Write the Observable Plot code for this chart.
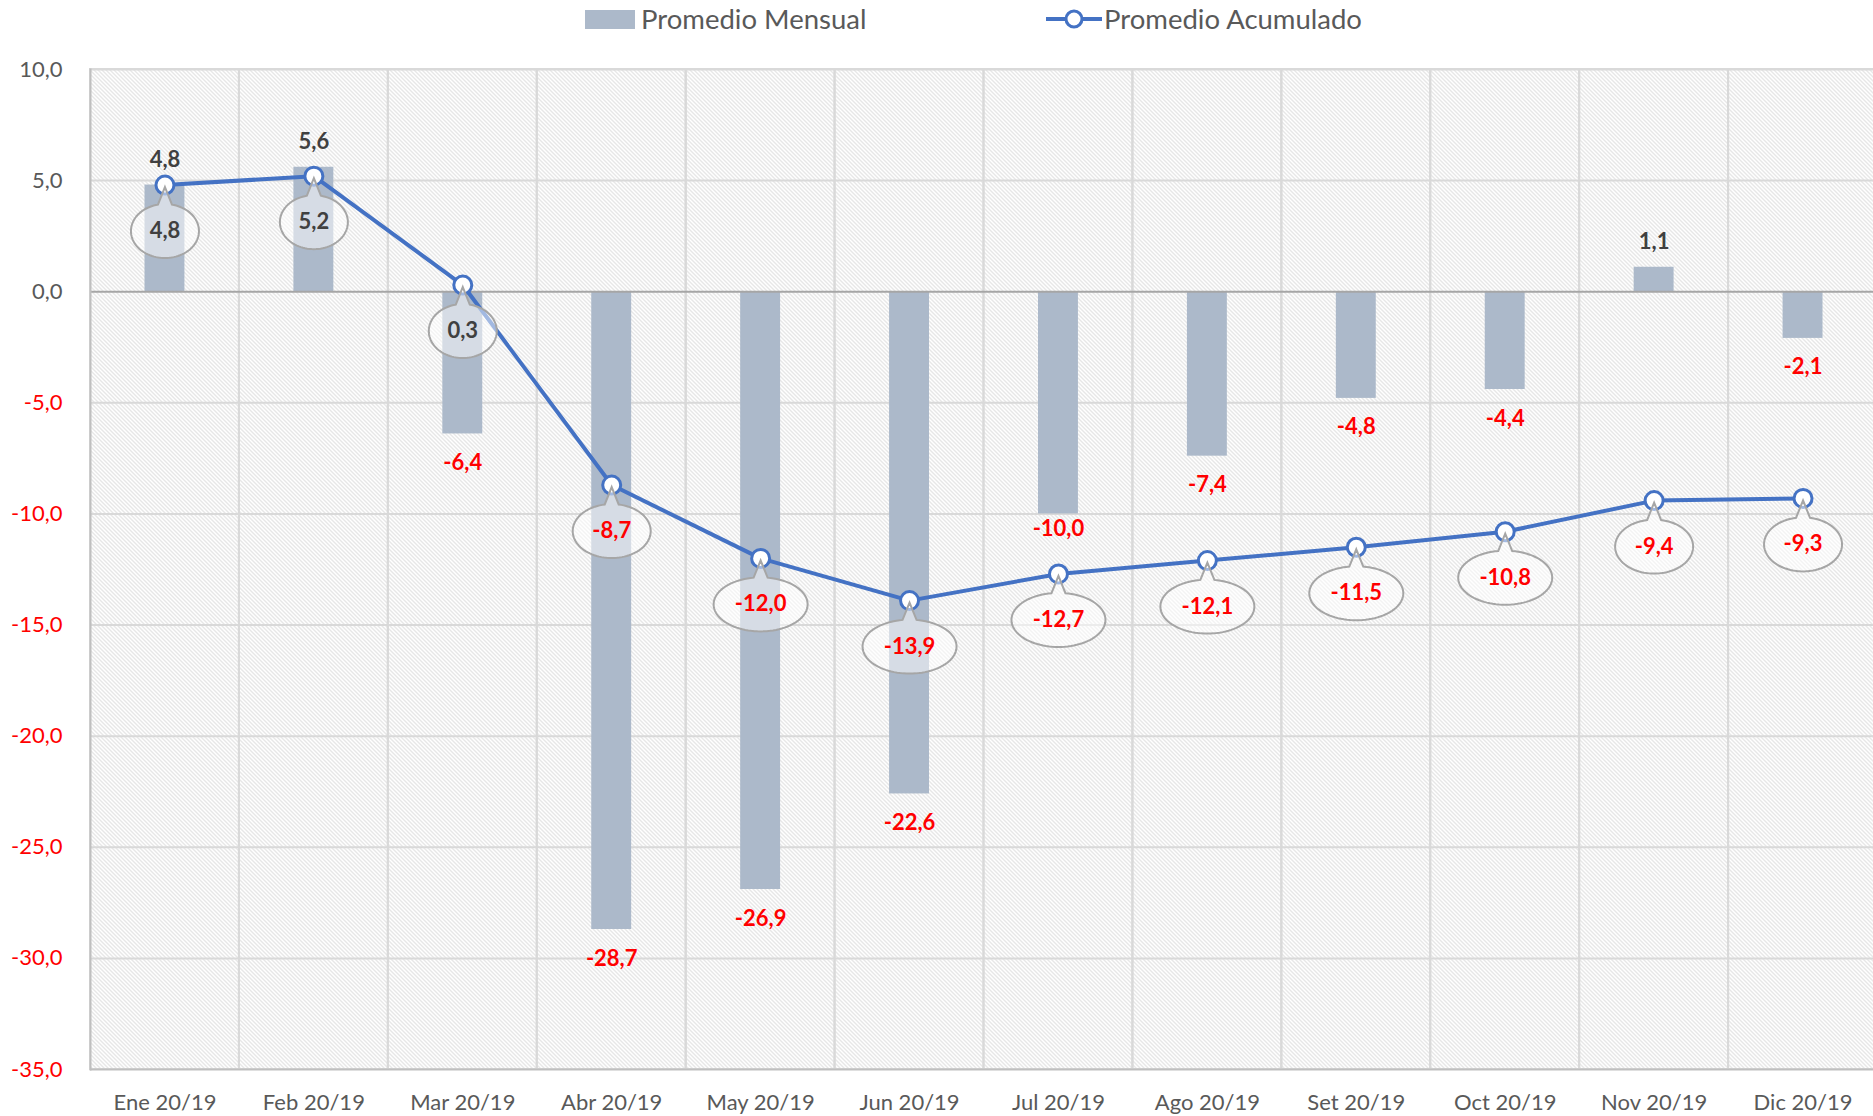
<!DOCTYPE html>
<html><head><meta charset="utf-8">
<script src="https://cdn.jsdelivr.net/npm/d3@7"></script>
<script src="https://cdn.jsdelivr.net/npm/@observablehq/plot@0.6"></script>
<style>
body{margin:0;background:#fff;font-family:Lato,sans-serif;}
#legend{position:relative;height:40px;width:1873px;}
.lt{position:absolute;top:0;line-height:38px;font-size:27.5px;color:#595959;white-space:nowrap;}
#chart svg{display:block;}
</style></head><body>
<div id="legend"></div>
<div id="chart"></div>
<script>
const months = ["Ene 20/19","Feb 20/19","Mar 20/19","Abr 20/19","May 20/19","Jun 20/19","Jul 20/19","Ago 20/19","Set 20/19","Oct 20/19","Nov 20/19","Dic 20/19"];
const mensual = [4.8, 5.6, -6.4, -28.7, -26.9, -22.6, -10.0, -7.4, -4.8, -4.4, 1.1, -2.1];
const acumulado = [4.8, 5.2, 0.3, -8.7, -12.0, -13.9, -12.7, -12.1, -11.5, -10.8, -9.4, -9.3];
const yTicks = [10, 5, 0, -5, -10, -15, -20, -25, -30, -35];
const seriesNames = ["Promedio Mensual", "Promedio Acumulado"];

const fmt = v => v.toFixed(1).replace(".", ",");
const data = months.map((m, i) => ({
  month: m, mensual: mensual[i], acumulado: acumulado[i],
  monLabel: fmt(mensual[i]), cumLabel: fmt(acumulado[i])
}));

// legend
const lg = document.getElementById("legend");
lg.innerHTML =
  `<div style="position:absolute;left:585px;top:10px;width:50px;height:19px;background:#acb9ca"></div>
   <div class="lt" style="left:641px">${seriesNames[0]}</div>
   <svg style="position:absolute;left:1045px;top:4px" width="58" height="30"><line x1="1" x2="57" y1="15" y2="15" stroke="#4472c4" stroke-width="4"/><circle cx="29" cy="15" r="8" fill="#fff" stroke="#4472c4" stroke-width="3"/></svg>
   <div class="lt" style="left:1104px">${seriesNames[1]}</div>`;

// callout bubble shape: pointer tip at the data point, ellipse below
const RX = {3: 34, 4: 39, 5: 47};
function callout(label) {
  const rx = RX[label.length] || 40, ry = 27, cy = 46, w = 7;
  return {
    draw(ctx) {
      const d = Math.asin(w / rx);
      const t0 = -Math.PI / 2 + d, t1 = 1.5 * Math.PI - d;
      const n = 90;
      ctx.moveTo(0, 2);
      for (let k = 0; k <= n; k++) {
        const t = t0 + (t1 - t0) * k / n;
        ctx.lineTo(rx * Math.cos(t), cy + ry * Math.sin(t));
      }
      ctx.closePath();
    }
  };
}

const pos = data.filter(d => d.mensual >= 0);
const nudged = "Jul 20/19"; // this label sits closer to its bar in the original
const neg = data.filter(d => d.mensual < 0 && d.month !== nudged);
const negNudged = data.filter(d => d.month === nudged);
const cpos = data.filter(d => d.acumulado >= 0);
const cneg = data.filter(d => d.acumulado < 0);
const labelFont = {fontSize: 22, fontWeight: "bold"};

const chart = Plot.plot({
  width: 1873,
  height: 1076,
  marginLeft: 90,
  marginRight: -4,
  marginTop: 29,
  marginBottom: 47,
  style: {fontFamily: "Lato, sans-serif", fontSize: "22px", background: "#fff", color: "#595959"},
  x: {domain: months, padding: 0, round: false},
  y: {domain: [-35, 10]},
  marks: [
    Plot.frame({fill: "url(#hatch)", stroke: null}),
    Plot.cell(months, {x: d => d, fill: "none", stroke: "#d9d9d9", strokeWidth: 2}),
    Plot.ruleY(yTicks.filter(v => v !== 0 && v !== -35), {stroke: "#d9d9d9", strokeWidth: 2}),
    Plot.barY(data, {x: "month", y: "mensual", fill: "#acb9ca", insetLeft: 54.5, insetRight: 54.5}),
    Plot.ruleY([0], {stroke: "#a6a6a6", strokeWidth: 2}),
    Plot.ruleY([-35], {stroke: "#bfbfbf", strokeWidth: 2}),
    Plot.frame({anchor: "left", stroke: "#bfbfbf", strokeWidth: 2}),
    Plot.line(data, {x: "month", y: "acumulado", stroke: "#4472c4", strokeWidth: 4}),
    Plot.dot(data, {x: "month", y: "acumulado", r: 9, fill: "white", stroke: "#4472c4", strokeWidth: 3}),
    Plot.dot(data, {x: "month", y: "acumulado", r: 10, symbol: d => callout(d.cumLabel), fill: "white", fillOpacity: 0.5, stroke: "#a6a6a6", strokeWidth: 2}),
    Plot.text(cpos, {x: "month", y: "acumulado", text: "cumLabel", dy: 46, fill: "#404040", ...labelFont}),
    Plot.text(cneg, {x: "month", y: "acumulado", text: "cumLabel", dy: 46, fill: "#ff0000", ...labelFont}),
    Plot.text(pos, {x: "month", y: "mensual", text: "monLabel", dy: -25, fill: "#404040", ...labelFont}),
    Plot.text(neg, {x: "month", y: "mensual", text: "monLabel", dy: 29, fill: "#ff0000", ...labelFont}),
    Plot.text(negNudged, {x: "month", y: "mensual", text: "monLabel", dy: 15, fill: "#ff0000", ...labelFont}),
    Plot.axisX({tickSize: 0, tickPadding: 25, fill: "#595959", fontSize: 22, label: null}),
    Plot.axisY(yTicks.filter(v => v >= 0), {tickSize: 0, tickPadding: 28, tickFormat: fmt, fill: "#595959", fontSize: 22, label: null}),
    Plot.axisY(yTicks.filter(v => v < 0), {tickSize: 0, tickPadding: 28, tickFormat: fmt, fill: "#ff0000", fontSize: 22, label: null})
  ]
});

const ns = "http://www.w3.org/2000/svg";
const defs = document.createElementNS(ns, "defs");
defs.innerHTML = '<pattern id="hatch" patternUnits="userSpaceOnUse" width="4" height="4" shape-rendering="crispEdges"><rect width="4" height="4" fill="#fff"/><rect x="0" y="0" width="1" height="1" fill="#cfcfcf"/><rect x="1" y="1" width="1" height="1" fill="#cfcfcf"/><rect x="2" y="2" width="1" height="1" fill="#cfcfcf"/><rect x="3" y="3" width="1" height="1" fill="#cfcfcf"/></pattern>';
chart.insertBefore(defs, chart.firstChild);
document.getElementById("chart").appendChild(chart);
</script>
</body></html>
